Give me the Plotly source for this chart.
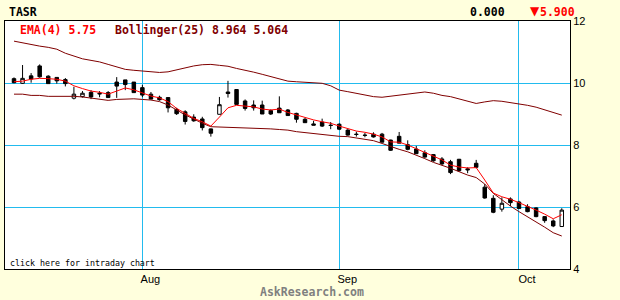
import plotly.graph_objects as go

# ---------------- data ----------------
month_labels = ["Aug", "Sep", "Oct"]
month_start_idx = [15, 38, 59]          # trading-day index of first session of each month

opens = [10.14, 9.99, 10.23, 10.55, 10.22, 10.18, 10.11, 9.51, 9.56, 9.70,
         9.67, 9.69, 10.03, 10.10, 10.03, 9.85, 9.64, 9.54, 9.53, 9.15,
         9.07, 8.90, 8.84, 8.52, 8.99, 9.71, 9.79, 9.42, 9.29, 9.29,
         9.11, 9.19, 9.13, 9.02, 8.83, 8.68, 8.74, 8.64, 8.67, 8.48,
         8.35, 8.32, 8.35, 8.35, 8.16, 8.28, 8.01, 7.87, 7.75, 7.69,
         7.55, 7.46, 7.54, 7.23, 7.41, 6.64, 6.28, 5.93, 6.26, 6.16,
         6.01, 5.97, 5.69, 5.55, 5.37]
highs = [10.18, 10.58, 10.32, 10.60, 10.25, 10.18, 10.16, 9.88, 9.74, 9.77,
         9.74, 9.74, 10.19, 10.10, 10.03, 9.94, 9.71, 9.59, 9.53, 9.20,
         9.12, 8.99, 8.91, 8.53, 9.55, 10.07, 9.80, 9.47, 9.44, 9.43,
         9.15, 9.57, 9.16, 9.04, 8.88, 8.78, 8.85, 8.74, 8.70, 8.51,
         8.43, 8.39, 8.41, 8.39, 8.17, 8.42, 8.15, 7.97, 7.83, 7.71,
         7.61, 7.52, 7.55, 7.28, 7.52, 6.74, 6.38, 6.31, 6.31, 6.20,
         6.09, 5.99, 5.70, 5.60, 5.96]
lows = [9.99, 9.97, 10.01, 10.17, 9.98, 9.98, 9.89, 9.47, 9.53, 9.48,
        9.54, 9.53, 9.52, 9.77, 9.69, 9.54, 9.47, 9.43, 9.05, 8.97,
        8.66, 8.75, 8.47, 8.27, 8.99, 9.53, 9.29, 9.11, 9.11, 9.00,
        8.97, 9.04, 8.95, 8.72, 8.72, 8.64, 8.58, 8.51, 8.48, 8.30,
        8.27, 8.25, 8.24, 8.09, 7.81, 8.06, 7.83, 7.72, 7.59, 7.46,
        7.35, 7.06, 7.14, 7.09, 7.25, 6.27, 5.80, 5.85, 6.03, 5.94,
        5.83, 5.67, 5.49, 5.35, 5.37]
closes = [10.01, 10.15, 10.13, 10.20, 9.98, 10.07, 9.98, 9.64, 9.67, 9.55,
          9.65, 9.53, 9.90, 9.95, 9.69, 9.61, 9.48, 9.46, 9.20, 9.01,
          8.76, 8.78, 8.56, 8.38, 9.30, 9.66, 9.31, 9.18, 9.20, 9.00,
          9.00, 9.04, 8.95, 8.83, 8.72, 8.64, 8.61, 8.63, 8.51, 8.32,
          8.34, 8.31, 8.26, 8.09, 7.83, 8.06, 7.86, 7.72, 7.61, 7.49,
          7.39, 7.11, 7.17, 7.20, 7.28, 6.29, 5.83, 6.12, 6.14, 5.95,
          5.85, 5.69, 5.56, 5.39, 5.90]
ema4 = [10.04, 10.06, 10.12, 10.15, 10.14, 10.12, 10.06, 9.91, 9.82, 9.74,
        9.70, 9.64, 9.74, 9.84, 9.78, 9.69, 9.58, 9.52, 9.40, 9.18,
        9.02, 8.86, 8.75, 8.61, 8.90, 9.20, 9.28, 9.25, 9.23, 9.16,
        9.13, 9.16, 9.05, 8.97, 8.88, 8.81, 8.75, 8.70, 8.61, 8.52,
        8.45, 8.41, 8.35, 8.26, 8.10, 8.09, 8.00, 7.88, 7.76, 7.65,
        7.52, 7.35, 7.29, 7.26, 7.27, 6.87, 6.45, 6.33, 6.25, 6.14,
        6.03, 5.90, 5.77, 5.62, 5.75]
boll_upper = [11.35, 11.29, 11.25, 11.19, 11.15, 11.09, 10.96, 10.86, 10.78, 10.73,
              10.68, 10.60, 10.52, 10.44, 10.41, 10.39, 10.37, 10.34, 10.36, 10.43,
              10.49, 10.55, 10.59, 10.60, 10.57, 10.54, 10.47, 10.42, 10.35, 10.28,
              10.20, 10.12, 10.06, 10.04, 10.02, 10.02, 9.99, 9.91, 9.77, 9.72,
              9.67, 9.61, 9.56, 9.54, 9.57, 9.61, 9.64, 9.67, 9.71, 9.67,
              9.60, 9.56, 9.49, 9.43, 9.34, 9.39, 9.43, 9.41, 9.37, 9.31,
              9.28, 9.22, 9.13, 9.05, 8.964]
boll_lower = [9.64, 9.64, 9.60, 9.60, 9.57, 9.57, 9.59, 9.57, 9.55, 9.52,
              9.47, 9.44, 9.47, 9.49, 9.49, 9.47, 9.45, 9.40, 9.29, 9.13,
              8.97, 8.84, 8.70, 8.59, 8.58, 8.58, 8.58, 8.56, 8.55, 8.54,
              8.52, 8.50, 8.48, 8.43, 8.40, 8.36, 8.32, 8.29, 8.28, 8.27,
              8.22, 8.18, 8.14, 8.05, 7.95, 7.86, 7.78, 7.68, 7.56, 7.44,
              7.35, 7.25, 7.14, 7.03, 6.95, 6.74, 6.44, 6.23, 6.03, 5.85,
              5.69, 5.53, 5.35, 5.17, 5.064]
y_ticks = [4, 6, 8, 10, 12]

# ---------------- figure ----------------
W, H = 620, 300
ML, MR, MT, MB = 5, 50, 21, 31
PW, PH = W - ML - MR, H - MT - MB
GRID = "#22BBEE"
BG = "#FFFFDD"
MONO = "DejaVu Sans Mono"

x = list(range(len(closes)))

fig = go.Figure()
fig.add_trace(go.Candlestick(
    x=x, open=opens, high=highs, low=lows, close=closes,
    increasing=dict(line=dict(color="black", width=1), fillcolor="white"),
    decreasing=dict(line=dict(color="black", width=1), fillcolor="black"),
    whiskerwidth=0, hoverinfo="skip", showlegend=False))
fig.add_trace(go.Scatter(x=x, y=boll_upper, mode="lines",
                         line=dict(color="#800000", width=1), hoverinfo="skip"))
fig.add_trace(go.Scatter(x=x, y=boll_lower, mode="lines",
                         line=dict(color="#800000", width=1), hoverinfo="skip"))
fig.add_trace(go.Scatter(x=x, y=ema4, mode="lines",
                         line=dict(color="#FF0000", width=1), hoverinfo="skip"))


def px(xp):
    return (xp - ML) / PW


def py(yp):
    return (H - MB - yp) / PH


def label(text, xp, yp, color="black", size=11.5, anchor="left", bold=True,
          family=MONO):
    fig.add_annotation(
        text=f"<b>{text}</b>" if bold else text,
        x=px(xp), y=py(yp), xref="paper", yref="paper",
        xanchor=anchor, yanchor="middle", showarrow=False,
        font=dict(family=family, size=size, color=color), borderpad=0)


label("TASR", 7.5, 12)
label("0.000", 468.5, 12)
label("▼", 534.5, 11.5, color="#FF0000", size=12, anchor="center",
      family="DejaVu Sans")
label("5.900", 538.5, 12, color="#FF0000")
label("EMA(4) 5.75", 18.5, 30, color="#FF0000")
label("Bollinger(25) 8.964 5.064", 113.5, 30, color="#800000")
label("click here for intraday chart", 9, 262.5, size=8.3, bold=False)
label("AskResearch.com", 312, 292, color="#808080", anchor="center")

fig.update_layout(
    width=W, height=H,
    margin=dict(l=ML, r=MR, t=MT, b=MB, pad=0),
    paper_bgcolor=BG, plot_bgcolor="white",
    showlegend=False, boxgap=0.42,
    xaxis=dict(range=[-1.0515, 64.96], tickmode="array",
               tickvals=month_start_idx, ticktext=month_labels,
               showgrid=True, gridcolor=GRID, gridwidth=1, zeroline=False,
               showline=True, mirror=True, linecolor="black", linewidth=1,
               ticks="", ticklabelshift=8,
               tickfont=dict(family="Liberation Sans", size=11, color="black"),
               rangeslider=dict(visible=False), fixedrange=True),
    yaxis=dict(range=[4, 12], side="right", tickmode="array",
               tickvals=y_ticks, ticktext=[str(v) for v in y_ticks],
               showgrid=True, gridcolor=GRID, gridwidth=1, zeroline=False,
               showline=True, mirror=True, linecolor="black", linewidth=1,
               ticks="",
               tickfont=dict(family="Liberation Sans", size=11, color="black"),
               fixedrange=True),
)

fig.write_html("out.html")
